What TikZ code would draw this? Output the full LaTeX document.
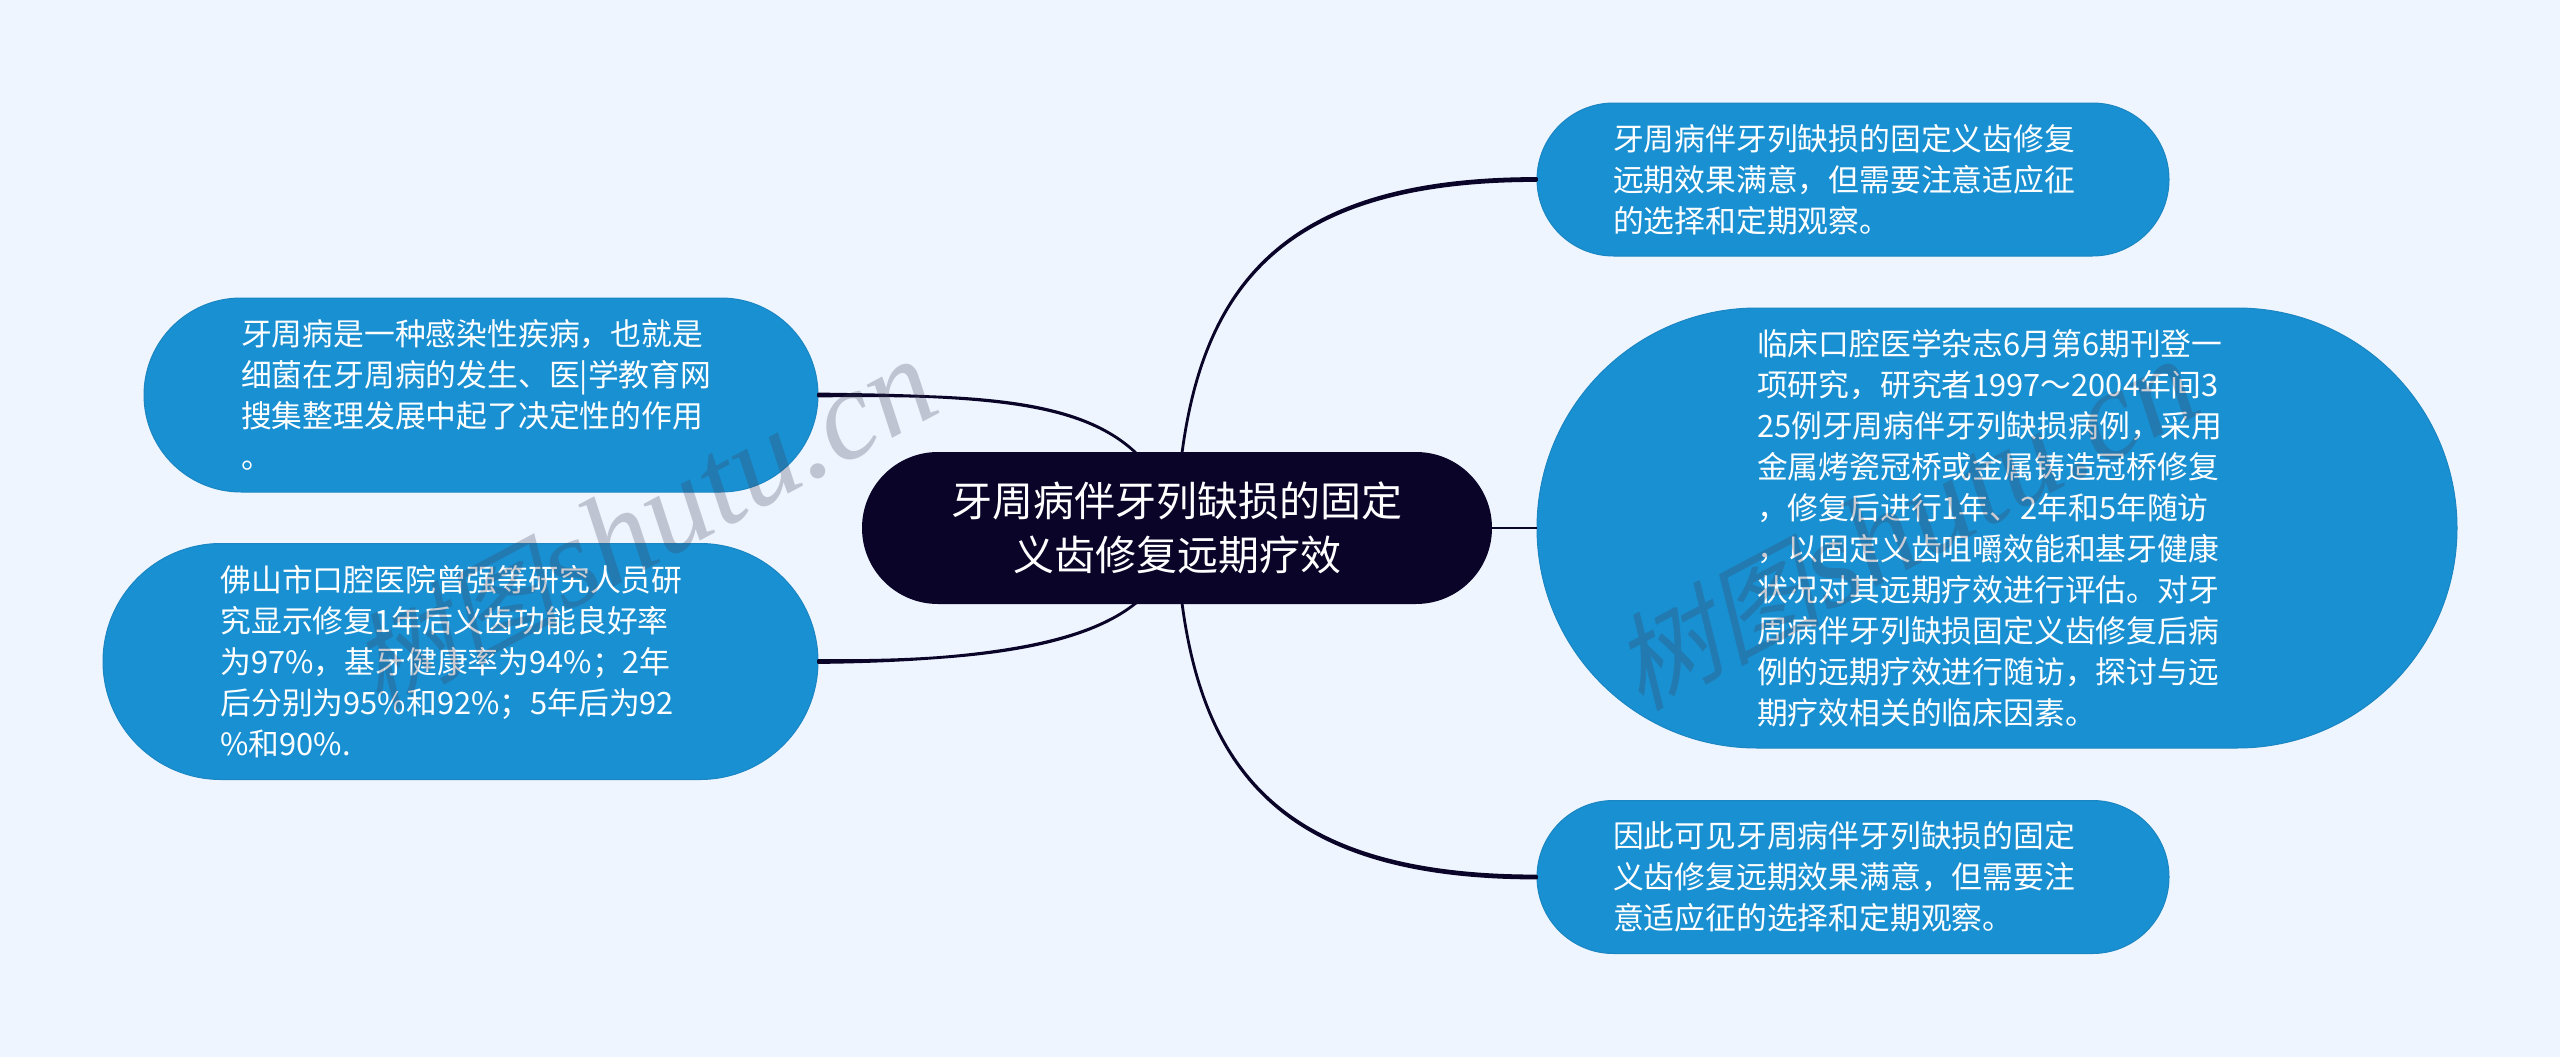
\documentclass[tikz,border=0pt]{standalone}
\usepackage{fontspec}
\setmainfont{Noto Sans CJK SC}
\newfontfamily\wmfont{Liberation Serif}[ItalicFont=* Italic]
\newfontfamily\wmcjk{Noto Sans CJK SC}[FakeSlant=0.25]
\definecolor{bgc}{HTML}{EEF5FF}
\definecolor{leafc}{HTML}{1890D2}
\definecolor{leafe}{HTML}{1B86C2}
\definecolor{rootc}{HTML}{0A0528}
\definecolor{markc}{HTML}{404055}
\tikzset{
  leaf/.style={draw=leafe,line width=1pt,fill=leafc,text=white,inner sep=0pt,
    text width=480pt,align=left,font=\fontsize{30.8}{41}\selectfont},
  rootnode/.style={fill=rootc,text=white,inner sep=0pt,text width=500pt,align=center,
    font=\fontsize{41}{54}\selectfont,minimum width=630pt,minimum height=152pt,rounded corners=76pt},
  conn/.style={draw=rootc,fill=rootc,line width=2.8pt,line join=round},
  mark text/.style={text=markc,opacity=0.27,rotate=28,anchor=base west,inner sep=0pt}
}
\newcommand{\wmark}{{\fontsize{105}{105}\wmcjk 树图}\,{\fontsize{128}{128}\wmfont\itshape shutu.cn}}
\begin{document}
\begin{tikzpicture}[x=1pt,y=-1pt]
\useasboundingbox[fill=bgc] (0,0) rectangle (2560,1057);

\node[rootnode] (c) at (1177,528) {牙周病伴牙列缺损的固定\\义齿修复远期疗效};
\coordinate (cTR) at (1182,453);
\coordinate (cBR) at (1182,603);
\coordinate (cTL) at (1136,453);
\coordinate (cBL) at (1136,603);

\node[leaf,minimum width=674pt,minimum height=194pt,rounded corners=97pt] (a) at (481,395)
 {牙周病是一种感染性疾病，也就是\\细菌在牙周病的发生、医|学教育网\\搜集整理发展中起了决定性的作用\\。};
\node[leaf,minimum width=715pt,minimum height=236pt,rounded corners=118pt] (b) at (460.5,661.5)
 {佛山市口腔医院曾强等研究人员研\\究显示修复1年后义齿功能良好率\\为97\%，基牙健康率为94\%；2年\\后分别为95\%和92\%；5年后为92\\\%和90\%.};
\node[leaf,minimum width=632pt,minimum height=153pt,rounded corners=76.5pt] (r1) at (1853,179.5)
 {牙周病伴牙列缺损的固定义齿修复\\远期效果满意，但需要注意适应征\\的选择和定期观察。};
\node[leaf,minimum width=920pt,minimum height=440pt,rounded corners=220pt] (r2) at (1997,528)
 {临床口腔医学杂志6月第6期刊登一\\项研究，研究者1997～2004年间3\\25例牙周病伴牙列缺损病例，采用\\金属烤瓷冠桥或金属铸造冠桥修复\\，修复后进行1年、2年和5年随访\\，以固定义齿咀嚼效能和基牙健康\\状况对其远期疗效进行评估。对牙\\周病伴牙列缺损固定义齿修复后病\\例的远期疗效进行随访，探讨与远\\期疗效相关的临床因素。};
\node[leaf,minimum width=632pt,minimum height=153pt,rounded corners=76.5pt] (r3) at (1853,877)
 {因此可见牙周病伴牙列缺损的固定\\义齿修复远期效果满意，但需要注\\意适应征的选择和定期观察。};

\draw[conn] (cTR) .. controls (1205,280) and (1290,178.5) .. ([yshift=1pt]r1.west)
  -- ([yshift=-1pt]r1.west) .. controls (1290,180.5) and (1205,280) .. (cTR);
\draw[conn] (cBR) .. controls (1205,777) and (1290,876) .. ([yshift=1pt]r3.west)
  -- ([yshift=-1pt]r3.west) .. controls (1290,878) and (1205,777) .. (cBR);
\draw[conn] (c.east |- r2.west) -- (r2.west);
\draw[conn] (cTL) .. controls (1080,400) and (980,394) .. ([yshift=-1pt]a.east)
  -- ([yshift=1pt]a.east) .. controls (980,396) and (1080,400) .. (cTL);
\draw[conn] (cBL) .. controls (1090,640) and (1000,660.5) .. ([yshift=-1pt]b.east)
  -- ([yshift=1pt]b.east) .. controls (1000,662.5) and (1090,640) .. (cBL);

\node[mark text] (w1) at (378,712) {\wmark};
\node[mark text] (w2) at (1640,712) {\wmark};
\end{tikzpicture}
\end{document}
